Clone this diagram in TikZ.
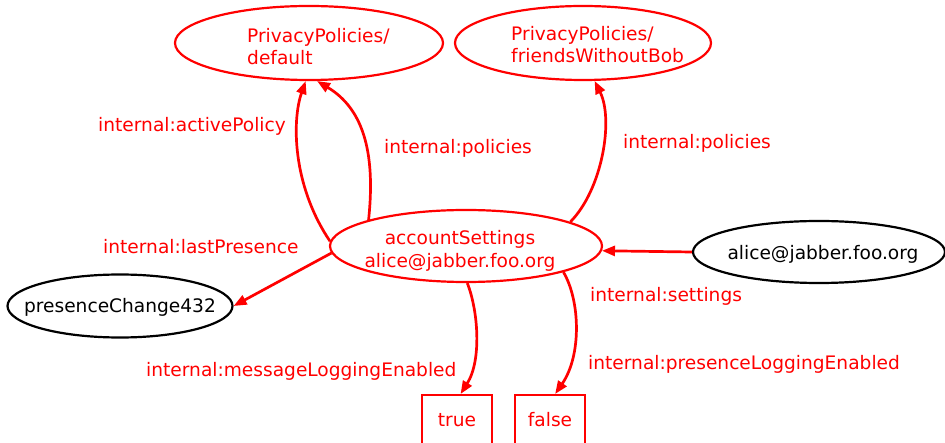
\documentclass[tikz,border=0pt]{standalone}
\usepackage{fontspec}
\setmainfont{DejaVu Sans}
\usetikzlibrary{arrows.meta,shapes.geometric}

\begin{document}
\begin{tikzpicture}[x=1pt,y=-1pt,
  oval/.style={ellipse, inner sep=0pt, line width=2.2pt},
  redoval/.style={oval, draw=red},
  blackoval/.style={oval, draw=black},
  valbox/.style={rectangle, draw=red, line width=2.2pt, inner ysep=0pt,
    minimum width=70pt, text height=31pt, text depth=25pt, anchor=north,
    text=red, font=\fontsize{18.6}{22}\selectfont},
  txt/.style={inner sep=0pt, font=\fontsize{18.6}{22}\selectfont},
  redtxt/.style={txt, text=red},
  edgelabel/.style={redtxt, anchor=base west},
  edge/.style={draw=red, line width=2.7pt, -{Triangle[length=13pt,width=10pt]}}
]
\useasboundingbox (0,0) rectangle (945,443);

% resources
\node[redoval, minimum width=268pt, minimum height=74pt] (def) at (309,43) {};
\node[redtxt, anchor=base west] (def1) at (247,43) {PrivacyPolicies/};
\node[redtxt, anchor=base west] (def2) at (247,65) {default};

\node[redoval, minimum width=256pt, minimum height=74pt] (fwb) at (583,43) {};
\node[redtxt, anchor=base west] (fwb1) at (511,41) {PrivacyPolicies/};
\node[redtxt, anchor=base west] (fwb2) at (511,63) {friendsWithoutBob};

\node[redoval, minimum width=272pt, minimum height=72pt] (acc) at (466,246) {};
\node[redtxt, anchor=base] (acc1) at (460,245) {accountSettings};
\node[redtxt, anchor=base] (acc2) at (460,268) {alice@jabber.foo.org};

\node[blackoval, minimum width=225pt, minimum height=63pt] (pres) at (120,306) {};
\node[txt, anchor=base] (pres1) at (120,313) {presenceChange432};

\node[blackoval, minimum width=252pt, minimum height=62pt] (alice) at (819,252) {};
\node[txt, anchor=base] (alice1) at (823,260) {alice@jabber.foo.org};

% literals
\node[valbox] (t) at (457,394) {true};
\node[valbox] (f) at (550,394) {false};

% properties
\draw[edge] (acc.178) .. controls (292,185) and (292,120) .. (def.265);
\draw[edge] (acc.165) .. controls (376,150) and (362,108) .. (def.-78);
\draw[edge] (acc.13) .. controls (602,190) and (614,120) .. (fwb.-73);
\draw[edge] (alice.west) -- (acc.-2);
\draw[edge] (acc.183) -- (pres.east);
\draw[edge] (acc.-88) .. controls (478,310) and (482,360) .. (t.83);
\draw[edge] (acc.-15) .. controls (580,300) and (582,355) .. (f.80);

\node[edgelabel] (l1) at (98,132) {internal:activePolicy};
\node[edgelabel] (l2) at (384,154) {internal:policies};
\node[edgelabel] (l3) at (623,149) {internal:policies};
\node[edgelabel] (l4) at (103,254) {internal:lastPresence};
\node[edgelabel] (l5) at (590,302) {internal:settings};
\node[edgelabel] (l6) at (146,377) {internal:messageLoggingEnabled};
\node[edgelabel] (l7) at (588,370) {internal:presenceLoggingEnabled};
\end{tikzpicture}
\end{document}
